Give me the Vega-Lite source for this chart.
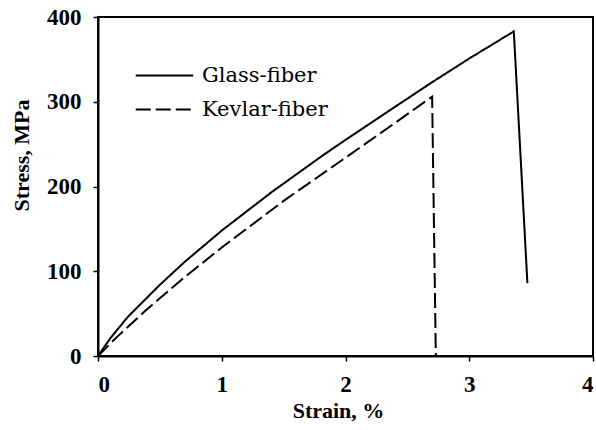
{
  "$schema": "https://vega.github.io/schema/vega-lite/v6.json",
  "width": 495,
  "height": 339,
  "autosize": "none",
  "padding": {"left": 98, "top": 17, "right": 3, "bottom": 74},
  "background": "white",
  "config": {
    "view": {"stroke": "black", "strokeWidth": 2},
    "font": "Liberation Serif",
    "legend": {"labelFont": "DejaVu Serif", "labelFontSize": 21, "labelColor": "black"},
    "axis": {
      "grid": false,
      "domainColor": "black",
      "domainWidth": 2,
      "tickColor": "black",
      "tickWidth": 1.5,
      "tickSize": 5,
      "labelFont": "Liberation Serif",
      "labelFontSize": 23,
      "labelFontWeight": "bold",
      "labelColor": "black",
      "titleFont": "Liberation Serif",
      "titleFontSize": 22,
      "titleFontWeight": "bold",
      "titleColor": "black"
    }
  },
  "data": {
    "values": [
      {"series": "Glass-fiber", "strain": 0.0, "stress": 0},
      {"series": "Glass-fiber", "strain": 0.1, "stress": 21},
      {"series": "Glass-fiber", "strain": 0.24, "stress": 46},
      {"series": "Glass-fiber", "strain": 0.5, "stress": 84},
      {"series": "Glass-fiber", "strain": 0.7, "stress": 111},
      {"series": "Glass-fiber", "strain": 1.0, "stress": 148},
      {"series": "Glass-fiber", "strain": 1.4, "stress": 193},
      {"series": "Glass-fiber", "strain": 1.8, "stress": 235},
      {"series": "Glass-fiber", "strain": 2.0, "stress": 255},
      {"series": "Glass-fiber", "strain": 2.4, "stress": 294},
      {"series": "Glass-fiber", "strain": 2.71, "stress": 324},
      {"series": "Glass-fiber", "strain": 3.0, "stress": 351},
      {"series": "Glass-fiber", "strain": 3.36, "stress": 383},
      {"series": "Glass-fiber", "strain": 3.47, "stress": 86},
      {"series": "Kevlar-fiber", "strain": 0.0, "stress": 0},
      {"series": "Kevlar-fiber", "strain": 0.15, "stress": 22},
      {"series": "Kevlar-fiber", "strain": 0.38, "stress": 53},
      {"series": "Kevlar-fiber", "strain": 0.7, "stress": 93},
      {"series": "Kevlar-fiber", "strain": 1.0, "stress": 128},
      {"series": "Kevlar-fiber", "strain": 1.5, "stress": 183},
      {"series": "Kevlar-fiber", "strain": 2.0, "stress": 234},
      {"series": "Kevlar-fiber", "strain": 2.4, "stress": 275},
      {"series": "Kevlar-fiber", "strain": 2.7, "stress": 306},
      {"series": "Kevlar-fiber", "strain": 2.73, "stress": 0}
    ]
  },
  "mark": {"type": "line", "color": "black", "strokeWidth": 2},
  "encoding": {
    "x": {
      "field": "strain",
      "type": "quantitative",
      "scale": {"domain": [0, 4], "nice": false, "zero": false},
      "axis": {"title": "Strain, %", "values": [0, 1, 2, 3, 4], "format": "d", "labelPadding": 12, "titlePadding": 4, "titleX": 240}
    },
    "y": {
      "field": "stress",
      "type": "quantitative",
      "scale": {"domain": [0, 400], "nice": false},
      "axis": {"title": "Stress, MPa", "values": [0, 100, 200, 300, 400], "format": "d", "labelPadding": 12, "titlePadding": 13, "titleY": 138}
    },
    "strokeDash": {
      "field": "series",
      "type": "nominal",
      "scale": {"domain": ["Glass-fiber", "Kevlar-fiber"], "range": [[1, 0], [15, 5]]},
      "legend": {
        "title": null,
        "orient": "none",
        "legendX": 54,
        "legendY": 46,
        "padding": 0,
        "symbolType": "M-2.5,0H2.5",
        "symbolSize": 529,
        "symbolStrokeWidth": 2,
        "symbolStrokeColor": "black",
        "labelFont": "DejaVu Serif",
        "labelFontSize": 21,
        "labelColor": "black",
        "labelOffset": 25,
        "rowPadding": 11
      }
    }
  }
}
